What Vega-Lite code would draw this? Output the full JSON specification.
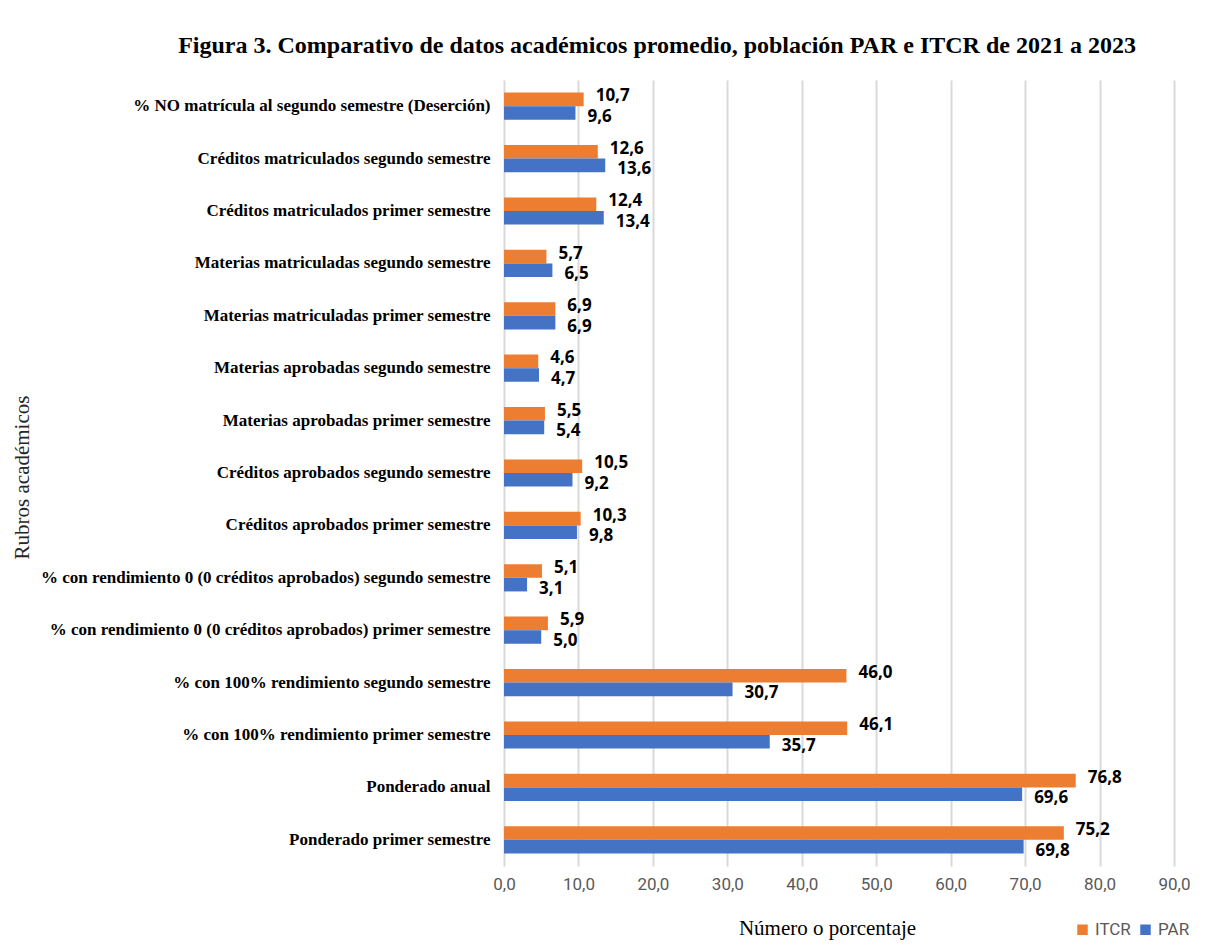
{
  "$schema": "https://vega.github.io/schema/vega-lite/v6.json",
  "width": 670,
  "height": 786,
  "autosize": {"type": "none"},
  "padding": {"left": 504, "top": 80, "right": 34, "bottom": 80},
  "background": "white",
  "title": {
    "text": "Figura 3. Comparativo de datos académicos promedio, población PAR e ITCR de 2021 a 2023",
    "font": "Liberation Serif",
    "fontSize": 24,
    "fontWeight": "bold",
    "color": "#000000",
    "anchor": "middle",
    "dx": -182,
    "offset": 22
  },
  "data": {
    "values": [
      {"rubro": "% NO matrícula al segundo semestre (Deserción)", "orden": 1, "serie": "ITCR", "valor": 10.7},
      {"rubro": "% NO matrícula al segundo semestre (Deserción)", "orden": 1, "serie": "PAR", "valor": 9.6},
      {"rubro": "Créditos matriculados segundo semestre", "orden": 2, "serie": "ITCR", "valor": 12.6},
      {"rubro": "Créditos matriculados segundo semestre", "orden": 2, "serie": "PAR", "valor": 13.6},
      {"rubro": "Créditos  matriculados primer semestre", "orden": 3, "serie": "ITCR", "valor": 12.4},
      {"rubro": "Créditos  matriculados primer semestre", "orden": 3, "serie": "PAR", "valor": 13.4},
      {"rubro": "Materias matriculadas segundo semestre", "orden": 4, "serie": "ITCR", "valor": 5.7},
      {"rubro": "Materias matriculadas segundo semestre", "orden": 4, "serie": "PAR", "valor": 6.5},
      {"rubro": "Materias matriculadas primer semestre", "orden": 5, "serie": "ITCR", "valor": 6.9},
      {"rubro": "Materias matriculadas primer semestre", "orden": 5, "serie": "PAR", "valor": 6.9},
      {"rubro": "Materias aprobadas segundo semestre", "orden": 6, "serie": "ITCR", "valor": 4.6},
      {"rubro": "Materias aprobadas segundo semestre", "orden": 6, "serie": "PAR", "valor": 4.7},
      {"rubro": "Materias aprobadas primer semestre", "orden": 7, "serie": "ITCR", "valor": 5.5},
      {"rubro": "Materias aprobadas primer semestre", "orden": 7, "serie": "PAR", "valor": 5.4},
      {"rubro": "Créditos aprobados segundo semestre", "orden": 8, "serie": "ITCR", "valor": 10.5},
      {"rubro": "Créditos aprobados segundo semestre", "orden": 8, "serie": "PAR", "valor": 9.2},
      {"rubro": "Créditos aprobados primer semestre", "orden": 9, "serie": "ITCR", "valor": 10.3},
      {"rubro": "Créditos aprobados primer semestre", "orden": 9, "serie": "PAR", "valor": 9.8},
      {"rubro": "% con rendimiento 0 (0 créditos aprobados) segundo semestre", "orden": 10, "serie": "ITCR", "valor": 5.1},
      {"rubro": "% con rendimiento 0 (0 créditos aprobados) segundo semestre", "orden": 10, "serie": "PAR", "valor": 3.1},
      {"rubro": "% con rendimiento 0 (0 créditos aprobados) primer semestre", "orden": 11, "serie": "ITCR", "valor": 5.9},
      {"rubro": "% con rendimiento 0 (0 créditos aprobados) primer semestre", "orden": 11, "serie": "PAR", "valor": 5.0},
      {"rubro": "% con 100% rendimiento segundo semestre", "orden": 12, "serie": "ITCR", "valor": 46.0},
      {"rubro": "% con 100% rendimiento segundo semestre", "orden": 12, "serie": "PAR", "valor": 30.7},
      {"rubro": "% con 100% rendimiento primer semestre", "orden": 13, "serie": "ITCR", "valor": 46.1},
      {"rubro": "% con 100% rendimiento primer semestre", "orden": 13, "serie": "PAR", "valor": 35.7},
      {"rubro": "Ponderado anual", "orden": 14, "serie": "ITCR", "valor": 76.8},
      {"rubro": "Ponderado anual", "orden": 14, "serie": "PAR", "valor": 69.6},
      {"rubro": "Ponderado primer semestre", "orden": 15, "serie": "ITCR", "valor": 75.2},
      {"rubro": "Ponderado primer semestre", "orden": 15, "serie": "PAR", "valor": 69.8}
    ]
  },
  "encoding": {
    "y": {
      "field": "rubro",
      "type": "nominal",
      "sort": {"field": "orden", "op": "min"},
      "scale": {"paddingInner": 0.48, "paddingOuter": 0.24},
      "axis": {
        "title": "Rubros académicos",
        "titleFont": "Liberation Serif",
        "titleFontSize": 21,
        "titleFontWeight": "normal",
        "titleColor": "#262626",
        "titleX": -482,
        "titleY": 397,
        "titleAlign": "center",
        "titleBaseline": "middle",
        "labelFont": "Liberation Serif",
        "labelFontSize": 17,
        "labelFontWeight": "bold",
        "labelColor": "#000000",
        "labelPadding": 14,
        "labelLimit": 500,
        "ticks": false,
        "domain": false
      }
    },
    "yOffset": {
      "field": "serie",
      "type": "nominal",
      "sort": ["ITCR", "PAR"],
      "scale": {"paddingInner": 0, "paddingOuter": 0}
    },
    "x": {
      "field": "valor",
      "type": "quantitative",
      "scale": {"domain": [0, 90], "nice": false, "zero": true},
      "axis": {
        "title": "Número o porcentaje",
        "titleFont": "Liberation Serif",
        "titleFontSize": 21,
        "titleFontWeight": "normal",
        "titleColor": "#000000",
        "titleX": 323,
        "titleY": 62,
        "titleBaseline": "middle",
        "values": [0, 10, 20, 30, 40, 50, 60, 70, 80, 90],
        "format": ".1f",
        "labelFont": "Roboto",
        "labelFontSize": 17,
        "labelColor": "#595959",
        "labelPadding": 10,
        "labelFlush": false,
        "grid": true,
        "gridColor": "#d9d9d9",
        "gridWidth": 2,
        "ticks": false,
        "domain": false
      }
    }
  },
  "layer": [
    {
      "mark": {"type": "bar"},
      "encoding": {
        "color": {
          "field": "serie",
          "type": "nominal",
          "scale": {"domain": ["ITCR", "PAR"], "range": ["#ED7D31", "#4472C4"]},
          "legend": {
            "title": null,
            "orient": "none",
            "direction": "horizontal",
            "legendX": 570,
            "legendY": 841,
            "symbolType": "square",
            "symbolSize": 110,
            "symbolStrokeWidth": 0,
            "labelFont": "Roboto",
            "labelFontSize": 17,
            "labelColor": "#595959",
            "columnPadding": 6,
            "labelOffset": 4
          }
        }
      }
    },
    {
      "transform": [{"filter": "datum.serie === 'ITCR'"}],
      "mark": {
        "type": "text",
        "align": "left",
        "baseline": "middle",
        "dx": 12,
        "dy": -3,
        "font": "Open Sans",
        "fontSize": 17,
        "fontWeight": "bold",
        "color": "#000000"
      },
      "encoding": {
        "text": {"field": "valor", "type": "quantitative", "format": ".1f"}
      }
    },
    {
      "transform": [{"filter": "datum.serie === 'PAR'"}],
      "mark": {
        "type": "text",
        "align": "left",
        "baseline": "middle",
        "dx": 12,
        "dy": 4,
        "font": "Open Sans",
        "fontSize": 17,
        "fontWeight": "bold",
        "color": "#000000"
      },
      "encoding": {
        "text": {"field": "valor", "type": "quantitative", "format": ".1f"}
      }
    }
  ],
  "config": {
    "view": {"stroke": null},
    "locale": {
      "number": {"decimal": ",", "thousands": ".", "grouping": [3], "currency": ["", ""]}
    }
  }
}
